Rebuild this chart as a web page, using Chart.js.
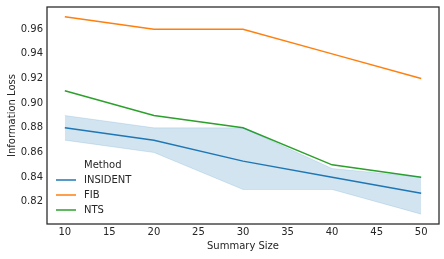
<!DOCTYPE html>
<html>
<head>
<meta charset="utf-8">
<script src="https://cdn.jsdelivr.net/npm/chart.js@4/dist/chart.umd.min.js"></script>
<style>
  html, body { margin: 0; padding: 0; background: #fff; }
  #wrap { width: 444px; height: 259px; }
</style>
</head>
<body>
<div id="wrap"><canvas id="chart"></canvas></div>
<script>
// Data
const summarySizes = [10, 20, 30, 40, 50];
const insident = [0.880, 0.870, 0.853, 0.840, 0.827];
const insidentLow = [0.870, 0.860, 0.830, 0.830, 0.810];
const insidentHigh = [0.890, 0.880, 0.880, 0.847, 0.840];
const fib = [0.970, 0.960, 0.960, 0.940, 0.920];
const nts = [0.910, 0.890, 0.880, 0.850, 0.840];

const xTicks = [10, 15, 20, 25, 30, 35, 40, 45, 50];
const yTicks = [0.82, 0.84, 0.86, 0.88, 0.90, 0.92, 0.94, 0.96];

const series = [
  { label: 'INSIDENT', color: '#1f77b4' },
  { label: 'FIB', color: '#ff7f0e' },
  { label: 'NTS', color: '#2ca02c' },
];

const textColor = '#262626';
const fontFamily = "'DejaVu Sans', sans-serif";

const pts = (ys) => summarySizes.map((x, i) => ({ x, y: ys[i] }));

function lineDs(label, ys, color) {
  return {
    label, data: pts(ys), borderColor: color, backgroundColor: color,
    borderWidth: 1.5, pointRadius: 0, tension: 0, fill: false,
  };
}

// Frame around the plot and a lower-left legend with a title
const framePlugin = {
  id: 'frame',
  afterDraw(chart) {
    const { ctx, chartArea: a } = chart;
    ctx.save();
    ctx.strokeStyle = textColor;
    ctx.lineWidth = 1.25;
    ctx.strokeRect(a.left, a.top, a.right - a.left, a.bottom - a.top);

    ctx.font = '10px ' + fontFamily;
    ctx.fillStyle = textColor;
    ctx.textBaseline = 'middle';
    ctx.textAlign = 'left';
    ctx.fillText('Method', a.left + 37, a.top + 158);
    series.forEach((s, i) => {
      const y = a.top + 173 + i * 15;
      ctx.strokeStyle = s.color;
      ctx.lineWidth = 1.5;
      ctx.beginPath();
      ctx.moveTo(a.left + 9, y);
      ctx.lineTo(a.left + 29, y);
      ctx.stroke();
      ctx.fillStyle = textColor;
      ctx.fillText(s.label, a.left + 37, y);
    });
    ctx.restore();
  },
};

new Chart(document.getElementById('chart'), {
  type: 'line',
  data: {
    datasets: [
      {
        label: 'band-high', data: pts(insidentHigh),
        borderColor: 'rgba(31,119,180,0.15)', borderWidth: 1,
        backgroundColor: 'rgba(31,119,180,0.2)', pointRadius: 0, fill: '+1',
      },
      {
        label: 'band-low', data: pts(insidentLow),
        borderColor: 'rgba(31,119,180,0.15)', borderWidth: 1,
        pointRadius: 0, fill: false,
      },
      lineDs('INSIDENT', insident, series[0].color),
      lineDs('FIB', fib, series[1].color),
      lineDs('NTS', nts, series[2].color),
    ],
  },
  options: {
    responsive: true,
    maintainAspectRatio: false,
    animation: false,
    layout: { padding: { top: 7, right: 5, left: 0, bottom: 0 } },
    scales: {
      x: {
        type: 'linear',
        min: 8,
        max: 52,
        afterBuildTicks: (s) => { s.ticks = xTicks.map(v => ({ value: v })); },
        afterFit: (s) => { s.height = 35; s.paddingLeft = 0; s.paddingRight = 0; },
        grid: { display: false, drawTicks: false },
        border: { display: false },
        ticks: { color: textColor, font: { family: fontFamily, size: 10 }, padding: 2, maxRotation: 0 },
        title: {
          display: true, text: 'Summary Size', color: textColor,
          font: { family: fontFamily, size: 10 }, padding: { top: 0, bottom: 7 },
        },
      },
      y: {
        min: 0.802,
        max: 0.978,
        afterBuildTicks: (s) => { s.ticks = yTicks.map(v => ({ value: v })); },
        afterFit: (s) => { s.width = 47; s.paddingTop = 0; s.paddingBottom = 0; },
        grid: { display: false, drawTicks: false },
        border: { display: false },
        ticks: {
          color: textColor, font: { family: fontFamily, size: 10 }, padding: 4,
          callback: (v) => v.toFixed(2),
        },
        title: {
          display: true, text: 'Information Loss', color: textColor,
          font: { family: fontFamily, size: 10 }, padding: { top: 6, bottom: 0 },
        },
      },
    },
    plugins: {
      legend: { display: false },
      tooltip: { enabled: false },
    },
  },
  plugins: [framePlugin],
});
</script>
</body>
</html>
